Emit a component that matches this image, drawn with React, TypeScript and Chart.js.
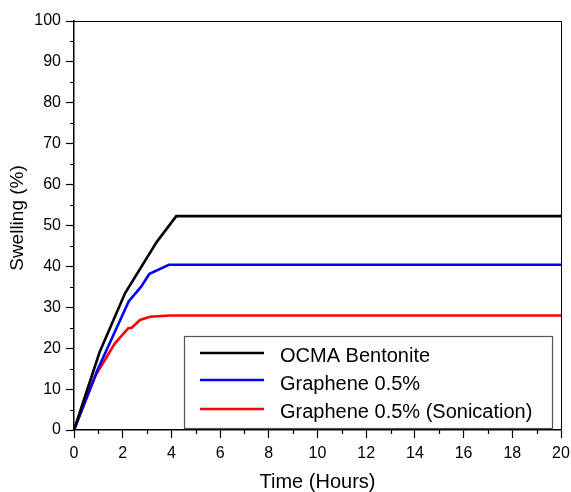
import { useEffect, useRef } from "react";
import { Chart, registerables } from "chart.js";

Chart.register(...registerables);

// Swelling measurements over time
const hoursOcma = [0, 1.05, 2.1, 3.4, 4.2, 20];
const swellOcma = [0, 19, 33.5, 46, 52.3, 52.3];

const hoursGraphene = [0, 0.95, 2.25, 2.75, 3.1, 3.9, 20];
const swellGraphene = [0, 14.5, 31.5, 35, 38.2, 40.4, 40.4];

const hoursSonication = [0, 0.9, 1.68, 2.23, 2.37, 2.71, 3.12, 3.94, 20];
const swellSonication = [0, 13.5, 21.2, 24.9, 25, 26.9, 27.7, 28, 28];

const seriesNames = ["OCMA Bentonite", "Graphene 0.5%", "Graphene 0.5% (Sonication)"];
const seriesColors = ["#000000", "#0000ff", "#ff0000"];

const yTitle = "Swelling (%)";
const xTitle = "Time (Hours)";

const FONT = "'Liberation Sans', Arial, Helvetica, sans-serif";

const toPoints = (xs: number[], ys: number[]) => xs.map((x, i) => ({ x, y: ys[i] }));

// Frame, minor ticks, y title and the boxed legend inside the plot
const framePlugin = {
  id: "frameAndLegend",
  afterDraw(chart: any) {
    const { ctx, chartArea } = chart;
    const { left, right, top, bottom } = chartArea;
    const xs = chart.scales.x;
    const ys = chart.scales.y;
    ctx.save();

    // top and right frame lines
    ctx.strokeStyle = "#000";
    ctx.lineWidth = 1;
    ctx.beginPath();
    ctx.moveTo(left, top + 0.5);
    ctx.lineTo(right + 0.5, top + 0.5);
    ctx.lineTo(right + 0.5, bottom);
    ctx.stroke();

    // minor ticks
    ctx.lineWidth = 1.2;
    ctx.beginPath();
    for (let v = 1; v < 20; v += 2) {
      const px = Math.round(xs.getPixelForValue(v)) + 0.5;
      ctx.moveTo(px, bottom);
      ctx.lineTo(px, bottom + 4);
    }
    for (let v = 5; v < 100; v += 10) {
      const py = Math.round(ys.getPixelForValue(v)) + 0.5;
      ctx.moveTo(left, py);
      ctx.lineTo(left - 4, py);
    }
    ctx.stroke();

    // y axis title
    ctx.save();
    ctx.translate(18, 218);
    ctx.rotate(-Math.PI / 2);
    ctx.font = `19px ${FONT}`;
    ctx.fillStyle = "#000";
    ctx.textAlign = "center";
    ctx.textBaseline = "middle";
    ctx.fillText(yTitle, 0, 0);
    ctx.restore();

    // legend box
    const bx = 184.5;
    const by = 336.5;
    const bw = 368;
    const bh = 92;
    ctx.fillStyle = "#fff";
    ctx.fillRect(bx, by, bw, bh);
    ctx.strokeStyle = "#555";
    ctx.lineWidth = 1.2;
    ctx.strokeRect(bx, by, bw, bh);

    const lineY = [353, 380, 409];
    const textY = [356, 384, 412];
    ctx.font = `20px ${FONT}`;
    ctx.textBaseline = "middle";
    ctx.textAlign = "left";
    chart.data.datasets.forEach((ds: any, i: number) => {
      ctx.strokeStyle = ds.borderColor;
      ctx.lineWidth = 2.6;
      ctx.beginPath();
      ctx.moveTo(200, lineY[i]);
      ctx.lineTo(264, lineY[i]);
      ctx.stroke();
      ctx.fillStyle = "#000";
      ctx.fillText(ds.label, 280, textY[i]);
    });

    ctx.restore();
  },
};

export default function App() {
  const canvasRef = useRef<HTMLCanvasElement | null>(null);

  useEffect(() => {
    const canvas = canvasRef.current;
    if (!canvas) return;

    const series = [
      toPoints(hoursOcma, swellOcma),
      toPoints(hoursGraphene, swellGraphene),
      toPoints(hoursSonication, swellSonication),
    ];

    const chart = new Chart(canvas, {
      type: "line",
      data: {
        datasets: series.map((data, i) => ({
          label: seriesNames[i],
          data,
          borderColor: seriesColors[i],
          backgroundColor: seriesColors[i],
          borderWidth: 2.6,
          pointRadius: 0,
          tension: 0,
          fill: false,
        })),
      },
      options: {
        responsive: false,
        animation: false,
        devicePixelRatio: 1,
        layout: { padding: { top: 21, right: 10, left: 0, bottom: 0 } },
        plugins: {
          legend: { display: false },
          tooltip: { enabled: false },
        },
        scales: {
          x: {
            type: "linear",
            min: 0,
            max: 20,
            ticks: {
              stepSize: 2,
              color: "#000",
              padding: 6,
              maxRotation: 0,
              font: { family: FONT, size: 16 },
            },
            grid: {
              drawOnChartArea: false,
              drawTicks: true,
              tickLength: 8,
              tickWidth: 1.2,
              tickColor: "#000",
            },
            border: { display: true, color: "#000", width: 1.5 },
            title: {
              display: true,
              text: xTitle,
              color: "#000",
              font: { family: FONT, size: 20, lineHeight: 1 },
              padding: { top: 0, bottom: 0 },
            },
            afterFit: (s: any) => {
              s.height = 62;
              s.paddingLeft = 0;
              s.paddingRight = 0;
            },
          },
          y: {
            type: "linear",
            min: 0,
            max: 100,
            ticks: {
              stepSize: 10,
              color: "#000",
              padding: 5,
              font: { family: FONT, size: 16 },
            },
            grid: {
              drawOnChartArea: false,
              drawTicks: true,
              tickLength: 8,
              tickWidth: 1.2,
              tickColor: "#000",
            },
            border: { display: true, color: "#000", width: 1.5 },
            title: { display: false },
            afterFit: (s: any) => {
              s.width = 74;
              s.paddingTop = 0;
              s.paddingBottom = 0;
            },
          },
        },
      },
      plugins: [framePlugin],
    });

    return () => chart.destroy();
  }, []);

  return (
    <div style={{ position: "absolute", left: 0, top: 0, width: 571, height: 492 }}>
      <canvas ref={canvasRef} width={571} height={492} />
    </div>
  );
}
